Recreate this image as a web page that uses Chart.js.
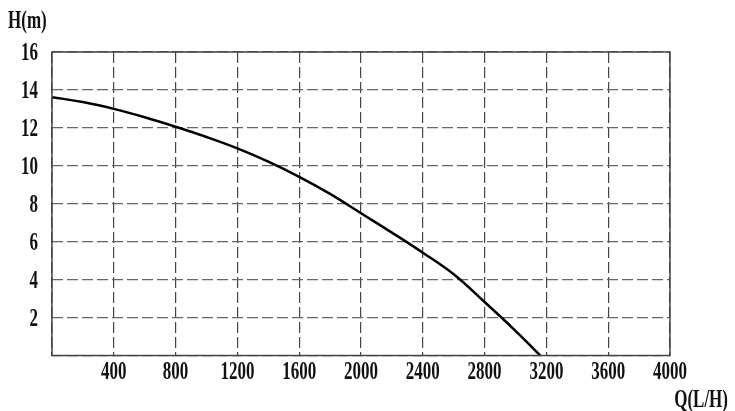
<!DOCTYPE html>
<html><head><meta charset="utf-8">
<script src="https://cdn.jsdelivr.net/npm/chart.js@4/dist/chart.umd.min.js"></script>
<style>html,body{margin:0;padding:0;background:#fff}#wrap{width:735px;height:411px}</style>
</head><body><div id="wrap"><canvas id="c" width="735" height="411"></canvas></div>
<script>
const flowQ = [0, 200, 400, 600, 800, 1000, 1200, 1400, 1600, 1800, 2000, 2200, 2400, 2600, 2800, 3000, 3160];
const headH = [13.62, 13.36, 13.0, 12.56, 12.06, 11.52, 10.92, 10.22, 9.42, 8.52, 7.5, 6.48, 5.42, 4.28, 2.82, 1.3, 0];
const xTicks = [400, 800, 1200, 1600, 2000, 2400, 2800, 3200, 3600, 4000];
const yTicks = [2, 4, 6, 8, 10, 12, 14, 16];
const yTitle = 'H(m)';
const xTitle = 'Q(L/H)';

const FONT = 'bold 25px "Liberation Serif", "DejaVu Serif", serif';
const SX = 0.68;

function narrowText(ctx, text, x, y, align) {
  ctx.save();
  ctx.translate(x, y);
  ctx.scale(SX, 1);
  ctx.textAlign = align;
  ctx.fillText(text, 0, 0);
  ctx.restore();
}

const labels = {
  id: 'labels',
  afterDraw(chart) {
    const ctx = chart.ctx;
    const a = chart.chartArea;
    const xs = chart.scales.x, ys = chart.scales.y;
    ctx.save();
    ctx.strokeStyle = '#444';
    ctx.lineWidth = 1.5;
    ctx.strokeRect(a.left, a.top, a.right - a.left, a.bottom - a.top);
    ctx.fillStyle = '#111';
    ctx.font = FONT;
    ctx.textBaseline = 'middle';
    xTicks.forEach(v => narrowText(ctx, String(v), xs.getPixelForValue(v), a.bottom + 17, 'center'));
    yTicks.forEach(v => narrowText(ctx, String(v), 38, ys.getPixelForValue(v) + 1.5, 'right'));
    narrowText(ctx, yTitle, 8, 22, 'left');
    narrowText(ctx, xTitle, 728, 401, 'right');
    ctx.restore();
  }
};

new Chart(document.getElementById('c'), {
  type: 'line',
  data: {
    datasets: [{
      data: flowQ.map((q, i) => ({x: q, y: headH[i]})),
      borderColor: '#000',
      borderWidth: 2.5,
      pointRadius: 0,
      tension: 0.4,
      fill: false
    }]
  },
  options: {
    responsive: false,
    animation: false,
    layout: {padding: {left: 0, right: 65, top: 52, bottom: 0}},
    plugins: {legend: {display: false}, tooltip: {enabled: false}},
    scales: {
      x: {
        type: 'linear', min: 0, max: 4000,
        afterBuildTicks: s => { s.ticks = [0].concat(xTicks).map(v => ({value: v})); },
        afterFit: s => { s.height = 55.5; },
        border: {display: false, dash: [11, 4]},
        grid: {color: '#444', lineWidth: 1.2, drawTicks: false},
        ticks: {display: false}
      },
      y: {
        type: 'linear', min: 0, max: 16,
        afterBuildTicks: s => { s.ticks = [0].concat(yTicks).map(v => ({value: v})); },
        afterFit: s => { s.width = 52; },
        border: {display: false, dash: [11, 4]},
        grid: {color: '#666', lineWidth: 1.3, drawTicks: false},
        ticks: {display: false}
      }
    }
  },
  plugins: [labels]
});
</script>
</body></html>
